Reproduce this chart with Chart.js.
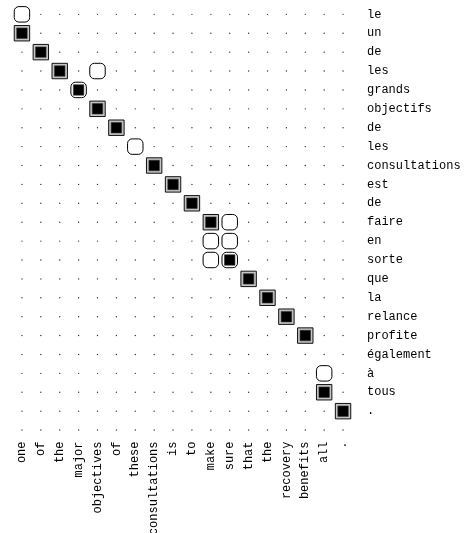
<!DOCTYPE html>
<html>
<head>
<meta charset="utf-8">
<script src="https://cdn.jsdelivr.net/npm/chart.js@4.4.1/dist/chart.umd.min.js"></script>
<style>
html,body{margin:0;padding:0;background:#fff;overflow:hidden;}
#wrap{width:469px;height:540px;position:relative;top:-7px;}
</style>
</head>
<body>
<div id="wrap"><canvas id="c"></canvas></div>
<script>
// English words (columns)
const xLabels = ['one','of','the','major','objectives','of','these','consultations','is','to','make','sure','that','the','recovery','benefits','all','.'];
// French words (rows); last row is an empty grid row
const yLabels = ['le','un','de','les','grands','objectifs','de','les','consultations','est','de','faire','en','sorte','que','la','relance','profite','également','à','tous','.',''];
// sure alignments [column index, row index]
const sureLinks = [[0,1],[1,2],[2,3],[3,4],[4,5],[5,6],[7,8],[8,9],[9,10],[10,11],[11,13],[12,14],[13,15],[14,16],[15,17],[16,20],[17,21]];
// possible alignments [column index, row index]
const possibleLinks = [[0,0],[4,3],[3,4],[6,7],[11,11],[10,12],[11,12],[10,13],[11,13],[16,19]];

const toPt = p => ({x: p[0], y: p[1]});
const isPossible = p => possibleLinks.some(q => q[0] === p[0] && q[1] === p[1]);

const gridDots = [];
for (let j = 0; j < yLabels.length; j++) {
  for (let i = 0; i < xLabels.length; i++) gridDots.push({x: i, y: j});
}

Chart.defaults.font.family = "'Liberation Mono', 'DejaVu Sans Mono', monospace";
Chart.defaults.font.size = 12;
Chart.defaults.color = '#000';

new Chart(document.getElementById('c'), {
  type: 'scatter',
  data: {
    datasets: [
      { // inner filled square of sure links
        data: sureLinks.map(toPt),
        pointStyle: 'rect', pointRadius: 7.4,
        backgroundColor: '#000', borderColor: '#333', borderWidth: 0.6
      },
      { // square frame of sure-only links
        data: sureLinks.filter(p => !isPossible(p)).map(toPt),
        pointStyle: 'rect', pointRadius: 10.9,
        backgroundColor: '#c4c4c4', borderColor: '#111', borderWidth: 1
      },
      { // rounded box of possible links
        data: possibleLinks.map(toPt),
        pointStyle: 'rectRounded', pointRadius: 9.0,
        backgroundColor: '#fff', borderColor: '#000', borderWidth: 1
      },
      { // grid dots
        data: gridDots,
        pointStyle: 'circle', pointRadius: 0.7,
        backgroundColor: '#333', borderWidth: 0
      }
    ]
  },
  options: {
    responsive: true,
    maintainAspectRatio: false,
    animation: false,
    events: [],
    layout: { padding: { left: 12.5, top: 3.5, right: 0, bottom: 0 } },
    plugins: { legend: { display: false }, tooltip: { enabled: false } },
    scales: {
      x: {
        type: 'linear',
        min: -0.5, max: xLabels.length - 0.5,
        position: 'bottom',
        grid: { display: false, drawTicks: false },
        border: { display: false },
        afterBuildTicks: s => { s.ticks = xLabels.map((_, i) => ({value: i})); },
        ticks: { autoSkip: false, minRotation: 90, maxRotation: 90, padding: 2,
                 callback: v => xLabels[v] },
        afterFit: s => { s.height = 93.5; s.paddingLeft = 0; s.paddingRight = 0; }
      },
      y: {
        type: 'linear',
        reverse: true,
        min: -0.5, max: yLabels.length - 0.5,
        position: 'right',
        grid: { display: false, drawTicks: false },
        border: { display: false },
        afterBuildTicks: s => { s.ticks = yLabels.map((_, i) => ({value: i})); },
        ticks: { autoSkip: false, padding: 14.5, crossAlign: 'near',
                 callback: v => yLabels[v] },
        afterFit: s => { s.width = 116.5; s.paddingTop = 0; s.paddingBottom = 0; }
      }
    }
  }
});
</script>
</body>
</html>
